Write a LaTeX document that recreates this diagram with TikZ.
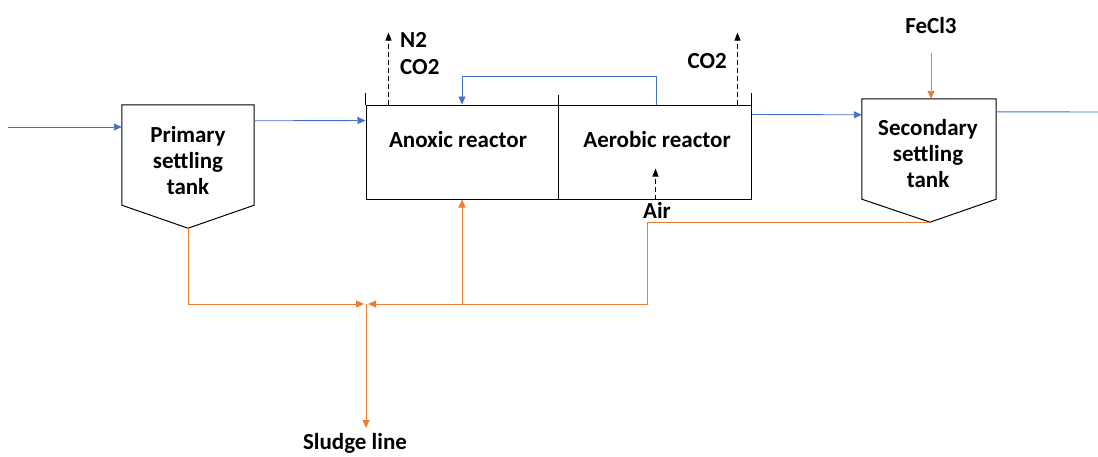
\documentclass[tikz,border=0pt]{standalone}
\usepackage{fontspec}
\setmainfont{Carlito}
\usetikzlibrary{calc,arrows.meta}

\definecolor{flowblue}{HTML}{4472C4}
\definecolor{sludgeorange}{HTML}{ED7D31}

\tikzset{
  lbl/.style={font=\fontsize{23}{26}\selectfont\bfseries, align=center, inner sep=0pt},
  tankbox/.style={minimum width=132pt, minimum height=100pt, inner sep=0pt},
  reactorbox/.style={draw, line width=1pt, minimum height=94pt, inner sep=0pt},
  wall/.style={line width=1pt},
  water/.style={flowblue, line width=0.9pt, -{Triangle[length=8pt,width=7pt]}},
  sludge/.style={sludgeorange, line width=0.9pt, -{Triangle[length=8pt,width=7pt]}},
  gas/.style={line width=1pt, dash pattern=on 5pt off 3pt, -{Triangle[length=8pt,width=6pt]}}
}

\begin{document}
\begin{tikzpicture}[x=1pt, y=-1pt]
    \useasboundingbox (0,0) rectangle (1098,456);

    % Primary settling tank
    \node[tankbox] (pst) at (188,155) {};
    \coordinate (pstbot) at ($(pst.south)+(0,23)$);
    \draw[wall] (pst.north west) -- (pst.north east) -- (pst.south east) -- (pstbot) -- (pst.south west) -- cycle;
    \node[lbl] (psttext) at (188,161) {Primary\\settling\\tank};

    % Anoxic and aerobic reactors
    \node[reactorbox, minimum width=192pt] (anox) at (462,152) {};
    \node[reactorbox, minimum width=193pt] (aer) at (654.5,152) {};
    \draw[wall] (anox.north west) -- ++(0,-12);
    \draw[wall] (anox.north east) -- ++(0,-10);
    \draw[wall] (aer.north east) -- ++(0,-12);
    \node[lbl] (anoxtext) at (458,140) {Anoxic reactor};
    \node[lbl] (aertext) at (657,140) {Aerobic reactor};

    % Secondary settling tank
    \node[tankbox, minimum width=134pt] (sst) at (929,149) {};
    \coordinate (sstbot) at ($(sst.south)+(1,23)$);
    \draw[wall] (sst.north west) -- (sst.north east) -- (sst.south east) -- (sstbot) -- (sst.south west) -- cycle;
    \node[lbl] (ssttext) at (928,154) {Secondary\\settling\\tank};

    % Water line
    \coordinate (influent) at (8,127);
    \coordinate (effluent) at (1098,112);
    \draw[water] (influent) -- (influent -| pst.west);
    \draw[water] ($(pst.north east)+(0,16)$) -- ($(anox.north west)+(0,16)$);
    \draw[water] ($(aer.north east)+(0,10)$) -- ($(sst.north west)+(0,16)$);
    \draw[flowblue, line width=0.9pt] ($(sst.north east)+(0,13)$) -- (effluent);

    % Internal recycle
    \draw[water] ($(aer.north)+(1.5,0)$) -- ++(0,-28) -| (anox.north);

    % Gases and air
    \node[lbl, anchor=west] (n2) at (400,40) {N2};
    \node[lbl, anchor=west] (co2a) at (400,67) {CO2};
    \node[lbl, anchor=east] (co2b) at (727,61) {CO2};
    \node[lbl] (air) at (657,210) {Air};
    \draw[gas] ($(anox.north west)+(23,0)$) -- ++(0,-72);
    \draw[gas] ($(aer.north east)+(-14,0)$) -- ++(0,-72);
    \draw[gas] ($(aer.south)+(1,0)$) -- ++(0,-31);

    % FeCl3 dosing
    \node[lbl] (fecl) at (931,26) {FeCl3};
    \draw[sludge] ($(fecl)+(0,27)$) -- ($(sst.north)+(2,0)$);

    % Sludge line
    \coordinate (junction) at (366,304);
    \coordinate (sludgeout) at (366,428);
    \node[lbl] (sludgetext) at (355,443) {Sludge line};
    \draw[sludge] (pstbot) |- ($(junction)+(-2,0)$);
    \draw[sludge] (sstbot) -- ++(-283,0) |- ($(junction)+(2,0)$);
    \draw[sludge] (462,304) -- (anox.south);
    \draw[sludge] (junction) -- (sludgeout);
\end{tikzpicture}
\end{document}
